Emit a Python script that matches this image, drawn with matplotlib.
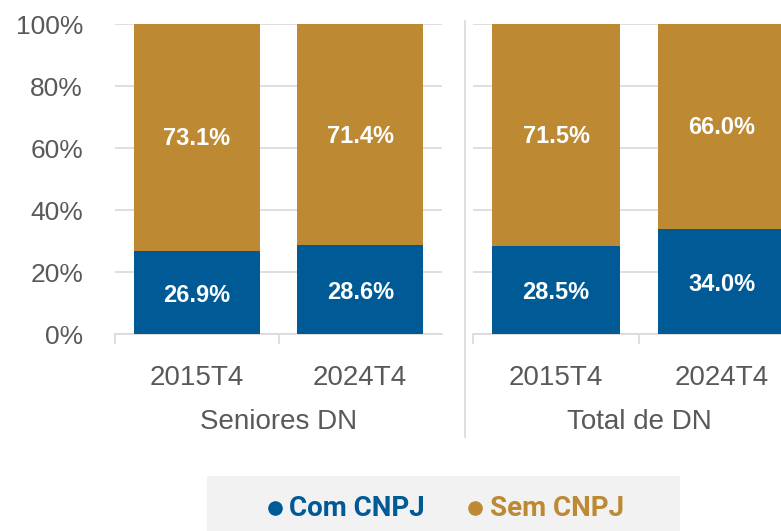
import matplotlib
matplotlib.use("Agg")
import matplotlib.pyplot as plt
from matplotlib.patches import Rectangle
from matplotlib.lines import Line2D
import numpy as np

plt.rcParams['font.family'] = ['Liberation Sans', 'DejaVu Sans']

# dados
grupos = ['Seniores DN', 'Total de DN']
periodos = ['2015T4', '2024T4']
com_cnpj = [[26.9, 28.6], [28.5, 34.0]]
sem_cnpj = [[73.1, 71.4], [71.5, 66.0]]
series_nomes = ['Com CNPJ', 'Sem CNPJ']

AZUL = '#005A96'
OURO = '#BD8933'
CINZA_TXT = '#595959'
CINZA_GRID = '#D9D9D9'

W, H = 781, 531
fig = plt.figure(figsize=(W / 100, H / 100), dpi=100)


def px_axes(x0, x1, ytop, ybot):
    return fig.add_axes([x0 / W, (H - ybot) / H, (x1 - x0) / W, (ybot - ytop) / H])


axes = [px_axes(115, 442, 24, 334), px_axes(473, 805, 24, 334)]

for i, ax in enumerate(axes):
    x = np.arange(len(periodos))
    ax.bar(x, com_cnpj[i], width=0.77, color=AZUL, zorder=3)
    ax.bar(x, sem_cnpj[i], width=0.77, bottom=com_cnpj[i], color=OURO, zorder=3)
    for xi, c, s in zip(x, com_cnpj[i], sem_cnpj[i]):
        ax.text(xi, c / 2 - 1, f'{c:.1f}%', ha='center', va='center', color='white',
                fontsize=17, fontweight='bold', zorder=4)
        ax.text(xi, c + s / 2 - 0.5, f'{s:.1f}%', ha='center', va='center', color='white',
                fontsize=17, fontweight='bold', zorder=4)

    ax.set_xlim(-0.5, 1.5)
    ax.set_ylim(0, 100)
    ax.set_yticks(np.arange(0, 101, 20))
    ax.grid(axis='y', color=CINZA_GRID, linewidth=1.2, zorder=0)
    ax.set_axisbelow(True)
    for sp in ['top', 'right', 'left']:
        ax.spines[sp].set_visible(False)
    ax.spines['bottom'].set_color(CINZA_GRID)
    ax.spines['bottom'].set_linewidth(1.2)

    ax.set_xticks(x)
    ax.set_xticklabels(periodos, fontsize=20, color=CINZA_TXT)
    ax.set_xticks([-0.5, 0.5], minor=True)
    ax.tick_params(axis='x', which='major', length=0, pad=22)
    ax.tick_params(axis='x', which='minor', length=7, width=1.2, color=CINZA_GRID)

    if i == 0:
        ax.set_yticklabels([f'{v}%' for v in range(0, 101, 20)], fontsize=19, color=CINZA_TXT)
        ax.tick_params(axis='y', length=0, pad=23)
    else:
        ax.tick_params(axis='y', length=0, labelleft=False)

    ax.annotate(grupos[i], xy=(0.5, 0), xycoords='axes fraction',
                xytext=(0, -88), textcoords='offset pixels',
                ha='center', va='center', fontsize=20, color=CINZA_TXT)

# separador entre grupos
fig.add_artist(Line2D([465 / W, 465 / W], [(H - 437) / H, (H - 21) / H],
                      color=CINZA_GRID, linewidth=1.2))

# legenda
fig.add_artist(Rectangle((207 / W, 0), (680 - 207) / W, (H - 476) / H,
                         transform=fig.transFigure, facecolor='#F2F2F2', edgecolor='none'))
leg_y = (H - 508) / H
for nome, cor, xd, xt in zip(series_nomes, [AZUL, OURO], [275, 475], [289, 490]):
    fig.add_artist(Line2D([xd / W], [leg_y], marker='o', markersize=9.5,
                          color=cor, linestyle='none'))
    fig.text(xt / W, leg_y, nome, ha='left', va='center', color=cor,
             fontsize=20, fontweight='bold', fontfamily='Roboto')

fig.savefig('out.png', dpi=100)
